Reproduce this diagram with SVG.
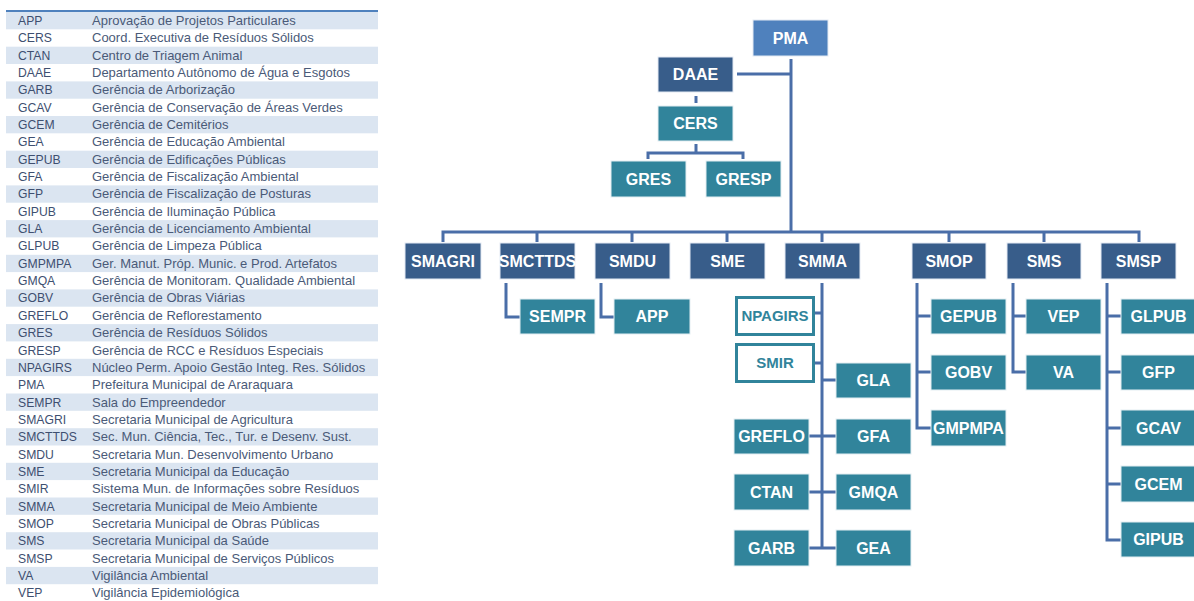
<svg xmlns="http://www.w3.org/2000/svg" width="1194" height="601" viewBox="0 0 1194 601">
<style>
.band{fill:#DBE5F1}
.ab{font-family:"Liberation Sans",Arial,sans-serif;font-size:12.2px;fill:#3E4F70}
.ds{font-family:"Liberation Sans",Arial,sans-serif;font-size:13px;fill:#4A5A78}
.pm{fill:#4F81BD;stroke:#E3EAF3;stroke-width:1}
.dk{fill:#385D8A;stroke:#E3EAF3;stroke-width:1}
.tl{fill:#31849B;stroke:#E3EEF2;stroke-width:1}
.wh{fill:#FFFFFF;stroke:#31849B;stroke-width:3}
.lb{font-family:"Liberation Sans",Arial,sans-serif;font-size:16px;font-weight:bold;fill:#FFFFFF;text-anchor:middle}
.lt{font-family:"Liberation Sans",Arial,sans-serif;font-size:15px;font-weight:bold;fill:#31849B;text-anchor:middle}
.cn{fill:none;stroke:#4A6EA8;stroke-width:3}
</style>
<rect width="1194" height="601" fill="#FFFFFF"/>
<g id="legend">
<line x1="6" y1="11" x2="378" y2="11" stroke="#4F81BD" stroke-width="2"/>
<rect class="band" x="6" y="12" width="372" height="17.3"/>
<rect class="band" x="6" y="46.7" width="372" height="17.3"/>
<rect class="band" x="6" y="81.4" width="372" height="17.3"/>
<rect class="band" x="6" y="116" width="372" height="17.3"/>
<rect class="band" x="6" y="150.7" width="372" height="17.3"/>
<rect class="band" x="6" y="185.4" width="372" height="17.3"/>
<rect class="band" x="6" y="220.1" width="372" height="17.3"/>
<rect class="band" x="6" y="254.8" width="372" height="17.3"/>
<rect class="band" x="6" y="289.4" width="372" height="17.3"/>
<rect class="band" x="6" y="324.1" width="372" height="17.3"/>
<rect class="band" x="6" y="358.8" width="372" height="17.3"/>
<rect class="band" x="6" y="393.5" width="372" height="17.3"/>
<rect class="band" x="6" y="428.2" width="372" height="17.3"/>
<rect class="band" x="6" y="462.8" width="372" height="17.3"/>
<rect class="band" x="6" y="497.5" width="372" height="17.3"/>
<rect class="band" x="6" y="532.2" width="372" height="17.3"/>
<rect class="band" x="6" y="566.9" width="372" height="17.3"/>
<text class="ab" x="18" y="25">APP</text><text class="ds" x="92" y="25">Aprovação de Projetos Particulares</text>
<text class="ab" x="18" y="42.3">CERS</text><text class="ds" x="92" y="42.3">Coord. Executiva de Resíduos Sólidos</text>
<text class="ab" x="18" y="59.7">CTAN</text><text class="ds" x="92" y="59.7">Centro de Triagem Animal</text>
<text class="ab" x="18" y="77">DAAE</text><text class="ds" x="92" y="77">Departamento Autônomo de Água e Esgotos</text>
<text class="ab" x="18" y="94.4">GARB</text><text class="ds" x="92" y="94.4">Gerência de Arborização</text>
<text class="ab" x="18" y="111.7">GCAV</text><text class="ds" x="92" y="111.7">Gerência de Conservação de Áreas Verdes</text>
<text class="ab" x="18" y="129">GCEM</text><text class="ds" x="92" y="129">Gerência de Cemitérios</text>
<text class="ab" x="18" y="146.4">GEA</text><text class="ds" x="92" y="146.4">Gerência de Educação Ambiental</text>
<text class="ab" x="18" y="163.7">GEPUB</text><text class="ds" x="92" y="163.7">Gerência de Edificações Públicas</text>
<text class="ab" x="18" y="181.1">GFA</text><text class="ds" x="92" y="181.1">Gerência de Fiscalização Ambiental</text>
<text class="ab" x="18" y="198.4">GFP</text><text class="ds" x="92" y="198.4">Gerência de Fiscalização de Posturas</text>
<text class="ab" x="18" y="215.7">GIPUB</text><text class="ds" x="92" y="215.7">Gerência de Iluminação Pública</text>
<text class="ab" x="18" y="233.1">GLA</text><text class="ds" x="92" y="233.1">Gerência de Licenciamento Ambiental</text>
<text class="ab" x="18" y="250.4">GLPUB</text><text class="ds" x="92" y="250.4">Gerência de Limpeza Pública</text>
<text class="ab" x="18" y="267.8">GMPMPA</text><text class="ds" x="92" y="267.8">Ger. Manut. Próp. Munic. e Prod. Artefatos</text>
<text class="ab" x="18" y="285.1">GMQA</text><text class="ds" x="92" y="285.1">Gerência de Monitoram. Qualidade Ambiental</text>
<text class="ab" x="18" y="302.4">GOBV</text><text class="ds" x="92" y="302.4">Gerência de Obras Viárias</text>
<text class="ab" x="18" y="319.8">GREFLO</text><text class="ds" x="92" y="319.8">Gerência de Reflorestamento</text>
<text class="ab" x="18" y="337.1">GRES</text><text class="ds" x="92" y="337.1">Gerência de Resíduos Sólidos</text>
<text class="ab" x="18" y="354.5">GRESP</text><text class="ds" x="92" y="354.5">Gerência de RCC e Resíduos Especiais</text>
<text class="ab" x="18" y="371.8">NPAGIRS</text><text class="ds" x="92" y="371.8">Núcleo Perm. Apoio Gestão Integ. Res. Sólidos</text>
<text class="ab" x="18" y="389.1">PMA</text><text class="ds" x="92" y="389.1">Prefeitura Municipal de Araraquara</text>
<text class="ab" x="18" y="406.5">SEMPR</text><text class="ds" x="92" y="406.5">Sala do Empreendedor</text>
<text class="ab" x="18" y="423.8">SMAGRI</text><text class="ds" x="92" y="423.8">Secretaria Municipal de Agricultura</text>
<text class="ab" x="18" y="441.2">SMCTTDS</text><text class="ds" x="92" y="441.2">Sec. Mun. Ciência, Tec., Tur. e Desenv. Sust.</text>
<text class="ab" x="18" y="458.5">SMDU</text><text class="ds" x="92" y="458.5">Secretaria Mun. Desenvolvimento Urbano</text>
<text class="ab" x="18" y="475.8">SME</text><text class="ds" x="92" y="475.8">Secretaria Municipal da Educação</text>
<text class="ab" x="18" y="493.2">SMIR</text><text class="ds" x="92" y="493.2">Sistema Mun. de Informações sobre Resíduos</text>
<text class="ab" x="18" y="510.5">SMMA</text><text class="ds" x="92" y="510.5">Secretaria Municipal de Meio Ambiente</text>
<text class="ab" x="18" y="527.9">SMOP</text><text class="ds" x="92" y="527.9">Secretaria Municipal de Obras Públicas</text>
<text class="ab" x="18" y="545.2">SMS</text><text class="ds" x="92" y="545.2">Secretaria Municipal da Saúde</text>
<text class="ab" x="18" y="562.5">SMSP</text><text class="ds" x="92" y="562.5">Secretaria Municipal de Serviços Públicos</text>
<text class="ab" x="18" y="579.9">VA</text><text class="ds" x="92" y="579.9">Vigilância Ambiental</text>
<text class="ab" x="18" y="597.2">VEP</text><text class="ds" x="92" y="597.2">Vigilância Epidemiológica</text>
</g>
<g id="connectors">
<path class="cn" d="M791 59 V232"/>
<path class="cn" d="M737 74 H791"/>
<path class="cn" d="M696 96 V103"/>
<path class="cn" d="M696 144 V153 M648 159 V153 H743 V159"/>
<path class="cn" d="M443 242 V232 H1139 V242 M537 232 V242 M632 232 V242 M727 232 V242 M822 232 V242 M949 232 V242 M1044 232 V242"/>
<path class="cn" d="M506 283 V317 H520"/>
<path class="cn" d="M601 283 V317 H614"/>
<path class="cn" d="M822 283 V548 M815 313 H822 M815 363 H822 M822 380 H836 M809 436 H836 M809 492 H836 M809 548 H836"/>
<path class="cn" d="M917 283 V428 H931 M917 316 H931 M917 372 H931"/>
<path class="cn" d="M1013 283 V372 H1026 M1013 316 H1026"/>
<path class="cn" d="M1107 283 V540 H1121 M1107 316 H1121 M1107 372 H1121 M1107 428 H1121 M1107 484 H1121"/>
</g>
<g id="PMA"><rect class="pm" x="753" y="20" width="75" height="36"/><text class="lb" x="790.5" y="43.7">PMA</text></g>
<g id="DAAE"><rect class="dk" x="658" y="57" width="75" height="35"/><text class="lb" x="695.5" y="80.2">DAAE</text></g>
<g id="CERS"><rect class="tl" x="658" y="106" width="75" height="35"/><text class="lb" x="695.5" y="129.2">CERS</text></g>
<g id="GRES"><rect class="tl" x="611" y="161" width="75" height="36"/><text class="lb" x="648.5" y="184.7">GRES</text></g>
<g id="GRESP"><rect class="tl" x="706" y="161" width="75" height="36"/><text class="lb" x="743.5" y="184.7">GRESP</text></g>
<g id="SMAGRI"><rect class="dk" x="405" y="243" width="76" height="36"/><text class="lb" x="443" y="266.7">SMAGRI</text></g>
<g id="SMCTTDS"><rect class="dk" x="500" y="243" width="75" height="36"/><text class="lb" x="537.5" y="266.7">SMCTTDS</text></g>
<g id="SMDU"><rect class="dk" x="595" y="243" width="75" height="36"/><text class="lb" x="632.5" y="266.7">SMDU</text></g>
<g id="SME"><rect class="dk" x="690" y="243" width="75" height="36"/><text class="lb" x="727.5" y="266.7">SME</text></g>
<g id="SMMA"><rect class="dk" x="785" y="243" width="75" height="36"/><text class="lb" x="822.5" y="266.7">SMMA</text></g>
<g id="SMOP"><rect class="dk" x="912" y="243" width="74" height="36"/><text class="lb" x="949" y="266.7">SMOP</text></g>
<g id="SMS"><rect class="dk" x="1007" y="243" width="74" height="36"/><text class="lb" x="1044" y="266.7">SMS</text></g>
<g id="SMSP"><rect class="dk" x="1101" y="243" width="75" height="36"/><text class="lb" x="1138.5" y="266.7">SMSP</text></g>
<g id="SEMPR"><rect class="tl" x="520" y="299" width="75" height="35"/><text class="lb" x="557.5" y="322.2">SEMPR</text></g>
<g id="APP"><rect class="tl" x="614" y="299" width="76" height="35"/><text class="lb" x="652" y="322.2">APP</text></g>
<g id="NPAGIRS"><rect class="wh" x="736.5" y="297.5" width="77" height="37"/><text class="lt" x="775" y="321.3">NPAGIRS</text></g>
<g id="SMIR"><rect class="wh" x="736.5" y="344.5" width="77" height="37"/><text class="lt" x="775" y="368.3">SMIR</text></g>
<g id="GLA"><rect class="tl" x="836" y="363" width="75" height="35"/><text class="lb" x="873.5" y="386.2">GLA</text></g>
<g id="GFA"><rect class="tl" x="836" y="419" width="75" height="35"/><text class="lb" x="873.5" y="442.2">GFA</text></g>
<g id="GMQA"><rect class="tl" x="836" y="474" width="75" height="36"/><text class="lb" x="873.5" y="497.7">GMQA</text></g>
<g id="GEA"><rect class="tl" x="836" y="530" width="75" height="36"/><text class="lb" x="873.5" y="553.7">GEA</text></g>
<g id="GREFLO"><rect class="tl" x="734" y="419" width="75" height="35"/><text class="lb" x="771.5" y="442.2">GREFLO</text></g>
<g id="CTAN"><rect class="tl" x="734" y="474" width="75" height="36"/><text class="lb" x="771.5" y="497.7">CTAN</text></g>
<g id="GARB"><rect class="tl" x="734" y="530" width="75" height="36"/><text class="lb" x="771.5" y="553.7">GARB</text></g>
<g id="GEPUB"><rect class="tl" x="931" y="299" width="75" height="35"/><text class="lb" x="968.5" y="322.2">GEPUB</text></g>
<g id="GOBV"><rect class="tl" x="931" y="355" width="75" height="35"/><text class="lb" x="968.5" y="378.2">GOBV</text></g>
<g id="GMPMPA"><rect class="tl" x="931" y="410" width="75" height="36"/><text class="lb" x="968.5" y="433.7">GMPMPA</text></g>
<g id="VEP"><rect class="tl" x="1026" y="299" width="75" height="35"/><text class="lb" x="1063.5" y="322.2">VEP</text></g>
<g id="VA"><rect class="tl" x="1026" y="355" width="75" height="35"/><text class="lb" x="1063.5" y="378.2">VA</text></g>
<g id="GLPUB"><rect class="tl" x="1121" y="299" width="75" height="35"/><text class="lb" x="1158.5" y="322.2">GLPUB</text></g>
<g id="GFP"><rect class="tl" x="1121" y="355" width="75" height="35"/><text class="lb" x="1158.5" y="378.2">GFP</text></g>
<g id="GCAV"><rect class="tl" x="1121" y="410" width="75" height="36"/><text class="lb" x="1158.5" y="433.7">GCAV</text></g>
<g id="GCEM"><rect class="tl" x="1121" y="466" width="75" height="36"/><text class="lb" x="1158.5" y="489.7">GCEM</text></g>
<g id="GIPUB"><rect class="tl" x="1121" y="522" width="75" height="35"/><text class="lb" x="1158.5" y="545.2">GIPUB</text></g>
</svg>
